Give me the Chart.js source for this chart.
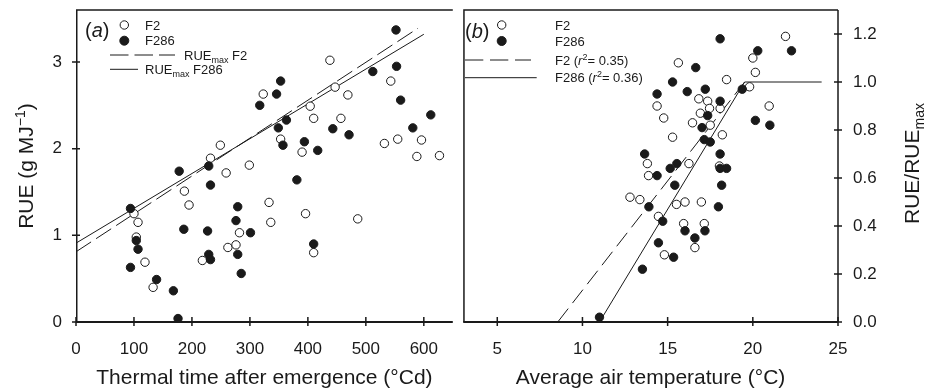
<!DOCTYPE html>
<html>
<head>
<meta charset="utf-8">
<script src="https://cdn.jsdelivr.net/npm/chart.js@4.4.1/dist/chart.umd.min.js"></script>
<style>
  html, body { margin: 0; padding: 0; background: #fff; }
  #wrap { position: relative; width: 927px; height: 391px; }
  #chartA { position: absolute; left: 0; top: 0; }
  #chartB { position: absolute; left: 458px; top: 0; }
</style>
</head>
<body>
<div id="wrap">
  <canvas id="chartA" width="458" height="391"></canvas>
  <canvas id="chartB" width="469" height="391"></canvas>
</div>
<script>
// (a) RUE against thermal time
const ttF2 = [100, 107, 104, 119, 133, 187, 195, 218, 232, 249, 259, 262, 276, 282, 299, 323, 333, 336, 353, 390, 396, 404, 410, 410, 438, 447, 457, 469, 486, 532, 543, 555, 588, 596, 627];
const rueF2 = [1.25, 1.15, 0.98, 0.69, 0.40, 1.51, 1.35, 0.71, 1.89, 2.04, 1.72, 0.86, 0.89, 1.03, 1.81, 2.63, 1.38, 1.15, 2.11, 1.96, 1.25, 2.49, 2.35, 0.80, 3.02, 2.71, 2.35, 2.62, 1.19, 2.06, 2.78, 2.11, 1.91, 2.10, 1.92];
const ttF286 = [94, 94, 104, 107, 139, 168, 176, 178, 186, 227, 229, 232, 229, 232, 276, 279, 279, 285, 301, 317, 346, 353, 349, 363, 357, 381, 394, 410, 417, 443, 471, 512, 552, 553, 560, 581, 612];
const rueF286 = [1.31, 0.63, 0.94, 0.84, 0.49, 0.36, 0.04, 1.74, 1.07, 1.05, 1.80, 1.58, 0.78, 0.72, 1.17, 1.33, 0.78, 0.56, 1.03, 2.50, 2.63, 2.78, 2.24, 2.33, 2.04, 1.64, 2.08, 0.90, 1.98, 2.23, 2.16, 2.89, 3.37, 2.95, 2.56, 2.24, 2.39];
// RUEmax lines (end points)
const maxLineF2X = [0, 590];
const maxLineF2Y = [0.81, 3.39];
const maxLineF286X = [0, 600];
const maxLineF286Y = [0.91, 3.32];

// (b) RUE/RUEmax against average air temperature
const tempF2 = [12.79, 13.37, 13.81, 13.88, 14.38, 14.46, 14.77, 14.81, 15.29, 15.52, 15.63, 15.94, 16.02, 16.25, 16.46, 16.60, 16.83, 16.92, 16.98, 17.15, 17.35, 17.46, 17.5, 18.08, 18.04, 18.21, 18.46, 19.81, 20.0, 20.15, 20.96, 21.92];
const ratioF2 = [0.52, 0.51, 0.66, 0.61, 0.90, 0.44, 0.85, 0.28, 0.77, 0.49, 1.08, 0.41, 0.50, 0.66, 0.83, 0.31, 0.93, 0.87, 0.50, 0.41, 0.92, 0.89, 0.82, 0.89, 0.65, 0.78, 1.01, 0.98, 1.10, 1.04, 0.90, 1.19];
const tempF286 = [11.0, 13.52, 13.65, 13.90, 14.38, 14.38, 14.46, 14.71, 15.15, 15.29, 15.35, 15.42, 15.54, 16.02, 16.15, 16.60, 16.65, 17.02, 17.15, 17.19, 17.21, 17.35, 17.5, 17.98, 18.08, 18.08, 18.08, 18.08, 18.17, 18.46, 19.38, 20.15, 20.29, 21.0, 22.27];
const ratioF286 = [0.02, 0.22, 0.70, 0.48, 0.95, 0.61, 0.33, 0.42, 0.64, 1.00, 0.27, 0.57, 0.66, 0.38, 0.96, 0.35, 1.06, 0.81, 0.76, 0.38, 0.97, 0.86, 0.75, 0.48, 1.18, 0.92, 0.70, 0.64, 0.57, 0.64, 0.97, 0.84, 1.13, 0.82, 1.13];
const fitF2X = [8.55, 19.52];
const fitF2Y = [0, 1.0];
const fitF286X = [11.0, 19.52, 24.04];
const fitF286Y = [0, 1.0, 1.0];

// tick labels
const xTicksA = [0, 100, 200, 300, 400, 500, 600];
const yTicksA = [0, 1, 2, 3];
const xTicksB = [5, 10, 15, 20, 25];
const yTicksB = [0, 0.2, 0.4, 0.6, 0.8, 1.0, 1.2];

const FONT = '"Liberation Sans", Arial, Helvetica, sans-serif';
const INK = '#1a1a1a';

function pts(xs, ys) {
  return xs.map(function (x, i) { return { x: x, y: ys[i] }; });
}

// draws text pieces with sub/superscripts and italics
function drawRich(ctx, parts, x, y, size, measureOnly) {
  let cx = x;
  parts.forEach(function (p) {
    const small = p.sub || p.sup;
    const fs = small ? Math.round(size * 0.66) : size;
    ctx.font = (p.it ? 'italic ' : '') + fs + 'px ' + FONT;
    const dy = p.sup ? -size * 0.4 : (p.sub ? size * 0.25 : 0);
    if (!measureOnly) ctx.fillText(p.t, cx, y + dy);
    cx += ctx.measureText(p.t).width;
  });
  return cx - x;
}

function circle(ctx, x, y, filled) {
  ctx.beginPath();
  ctx.arc(x, y, filled ? 4.5 : 4.2, 0, Math.PI * 2);
  ctx.fillStyle = filled ? INK : '#fff';
  ctx.fill();
  ctx.lineWidth = 1;
  ctx.strokeStyle = INK;
  ctx.stroke();
}

function seg(ctx, x1, x2, y, dash) {
  ctx.beginPath();
  ctx.setLineDash(dash || []);
  ctx.lineWidth = 1;
  ctx.strokeStyle = INK;
  ctx.moveTo(x1, y);
  ctx.lineTo(x2, y);
  ctx.stroke();
  ctx.setLineDash([]);
}

// frame around the plot and ticks that cross the axis lines
const frame = {
  id: 'frame',
  afterDraw: function (chart, args, opts) {
    const ctx = chart.ctx;
    const a = chart.chartArea;
    ctx.save();
    ctx.strokeStyle = INK;
    ctx.lineWidth = 1.5;
    ctx.beginPath();
    if (opts.left) { ctx.moveTo(a.left + 0.75, a.top); ctx.lineTo(a.left + 0.75, a.bottom); }
    if (opts.right) { ctx.moveTo(a.right, a.top); ctx.lineTo(a.right, a.bottom); }
    ctx.moveTo(a.left, a.top); ctx.lineTo(a.right, a.top);
    ctx.stroke();
    ctx.lineWidth = 2;
    ctx.beginPath();
    ctx.moveTo(a.left, a.bottom); ctx.lineTo(a.right, a.bottom);
    ctx.stroke();

    ctx.lineWidth = 1.5;
    ctx.beginPath();
    const xs = chart.scales.x, ys = chart.scales.y;
    xs.ticks.forEach(function (t) {
      const px = xs.getPixelForValue(t.value);
      ctx.moveTo(px, a.bottom - 5);
      ctx.lineTo(px, a.bottom + 4);
    });
    const x0 = ys.position === 'left' ? a.left : a.right;
    ys.ticks.forEach(function (t) {
      const py = ys.getPixelForValue(t.value);
      ctx.moveTo(x0 - 4, py);
      ctx.lineTo(x0 + 4, py);
    });
    ctx.stroke();
    ctx.restore();
  }
};

const extrasA = {
  id: 'extrasA',
  afterDraw: function (chart) {
    const ctx = chart.ctx;
    ctx.save();
    ctx.fillStyle = INK;
    ctx.textBaseline = 'alphabetic';
    // y title
    const yTitle = [{ t: 'RUE (g MJ' }, { t: '\u22121', sup: true }, { t: ')' }];
    ctx.translate(33, 166);
    ctx.rotate(-Math.PI / 2);
    const w = drawRich(ctx, yTitle, 0, 0, 21, true);
    drawRich(ctx, yTitle, -w / 2, 0, 21);
    ctx.setTransform(1, 0, 0, 1, 0, 0);
    // legend
    drawRich(ctx, [{ t: '(' }, { t: 'a', it: true }, { t: ')' }], 85, 37, 20);
    circle(ctx, 124.3, 25, false);
    circle(ctx, 124.3, 40.7, true);
    ctx.fillStyle = INK;
    ctx.font = '13px ' + FONT;
    ctx.fillText('F2', 145, 29.7);
    ctx.fillText('F286', 145, 45.4);
    seg(ctx, 110, 175, 55, [18.5, 6]);
    drawRich(ctx, [{ t: 'RUE' }, { t: 'max', sub: true }, { t: ' F2' }], 184, 59.7, 13);
    seg(ctx, 110, 138, 69.3);
    drawRich(ctx, [{ t: 'RUE' }, { t: 'max', sub: true }, { t: ' F286' }], 145, 74, 13);
    ctx.restore();
  }
};

const extrasB = {
  id: 'extrasB',
  afterDraw: function (chart) {
    const ctx = chart.ctx;
    ctx.save();
    ctx.fillStyle = INK;
    ctx.textBaseline = 'alphabetic';
    // right title, reading upwards
    const yTitle = [{ t: 'RUE/RUE' }, { t: 'max', sub: true }];
    ctx.translate(461, 163.5);
    ctx.rotate(-Math.PI / 2);
    const w = drawRich(ctx, yTitle, 0, 0, 21, true);
    drawRich(ctx, yTitle, -w / 2, 0, 21);
    ctx.setTransform(1, 0, 0, 1, 0, 0);
    // legend
    drawRich(ctx, [{ t: '(' }, { t: 'b', it: true }, { t: ')' }], 7, 38, 20);
    circle(ctx, 43.7, 25, false);
    circle(ctx, 43.7, 41, true);
    ctx.fillStyle = INK;
    ctx.font = '13px ' + FONT;
    ctx.fillText('F2', 97, 29.7);
    ctx.fillText('F286', 97, 46.4);
    seg(ctx, 7, 73, 60, [18.3, 6.7]);
    drawRich(ctx, [{ t: 'F2 (' }, { t: 'r', it: true }, { t: '2', sup: true }, { t: '= 0.35)' }], 97, 64.7, 13);
    seg(ctx, 7, 78.7, 77.7);
    drawRich(ctx, [{ t: 'F286 (' }, { t: 'r', it: true }, { t: '2', sup: true }, { t: '= 0.36)' }], 97, 82.4, 13);
    ctx.restore();
  }
};

function openSet(data) {
  return { data: data, pointRadius: 4.2, pointBackgroundColor: '#fff', pointBorderColor: INK, pointBorderWidth: 1, showLine: false, order: 2 };
}
function filledSet(data) {
  return { data: data, pointRadius: 4.2, pointBackgroundColor: INK, pointBorderColor: INK, pointBorderWidth: 1, showLine: false, order: 1 };
}
function lineSet(data, dash) {
  return { data: data, showLine: true, pointRadius: 0, borderColor: INK, borderWidth: 1, borderDash: dash || [], fill: false, order: 3 };
}

function tickAxis(arr, opts) {
  return Object.assign({
    type: 'linear',
    grid: { display: false, drawTicks: false },
    border: { display: false },
    afterBuildTicks: function (s) { s.ticks = arr.map(function (v) { return { value: v }; }); }
  }, opts);
}

const tickFont = { family: FONT, size: 17 };
const titleFont = { family: FONT, size: 21 };

new Chart(document.getElementById('chartA'), {
  type: 'scatter',
  data: {
    datasets: [
      openSet(pts(ttF2, rueF2)),
      filledSet(pts(ttF286, rueF286)),
      lineSet(pts(maxLineF2X, maxLineF2Y), [18, 6]),
      lineSet(pts(maxLineF286X, maxLineF286Y))
    ]
  },
  options: {
    responsive: false,
    animation: false,
    layout: { padding: { top: 10, left: 0, right: 0, bottom: 0 } },
    plugins: { legend: { display: false }, tooltip: { enabled: false }, frame: { left: true, right: false } },
    scales: {
      x: tickAxis(xTicksA, {
        min: 0, max: 650,
        ticks: { font: tickFont, color: INK, padding: 17, maxRotation: 0 },
        title: { display: true, text: 'Thermal time after emergence (\u00b0Cd)', font: titleFont, color: INK, padding: { top: 0, bottom: 0 } },
        afterFit: function (s) { s.height = 69; s.paddingLeft = 0; s.paddingRight = 0; }
      }),
      y: tickAxis(yTicksA, {
        min: 0, max: 3.6, position: 'left',
        ticks: { font: tickFont, color: INK, padding: 14 },
        afterFit: function (s) { s.width = 76; s.paddingTop = 0; s.paddingBottom = 0; }
      })
    }
  },
  plugins: [frame, extrasA]
});

new Chart(document.getElementById('chartB'), {
  type: 'scatter',
  data: {
    datasets: [
      openSet(pts(tempF2, ratioF2)),
      filledSet(pts(tempF286, ratioF286)),
      lineSet(pts(fitF2X, fitF2Y), [17, 7]),
      lineSet(pts(fitF286X, fitF286Y))
    ]
  },
  options: {
    responsive: false,
    animation: false,
    layout: { padding: { top: 10, left: 0, right: 0, bottom: 0 } },
    plugins: { legend: { display: false }, tooltip: { enabled: false }, frame: { left: true, right: true } },
    scales: {
      x: tickAxis(xTicksB, {
        min: 3, max: 25,
        ticks: { font: tickFont, color: INK, padding: 17, maxRotation: 0 },
        title: { display: true, text: 'Average air temperature (\u00b0C)', font: titleFont, color: INK, padding: { top: 0, bottom: 0 } },
        afterFit: function (s) { s.height = 69; s.paddingLeft = 0; s.paddingRight = 0; }
      }),
      y: tickAxis(yTicksB, {
        min: 0, max: 1.3, position: 'right',
        ticks: { font: tickFont, color: INK, padding: 15, callback: function (v) { return Number(v).toFixed(1); } },
        afterFit: function (s) { s.width = 89; s.paddingTop = 0; s.paddingBottom = 0; }
      })
    }
  },
  plugins: [frame, extrasB]
});
</script>
</body>
</html>
